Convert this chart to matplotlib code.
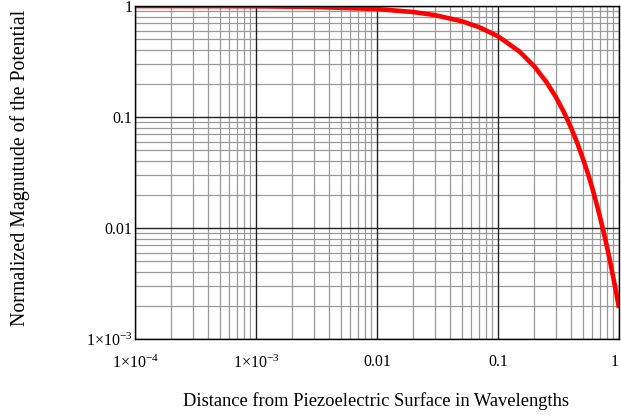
import matplotlib
matplotlib.use("Agg")
import matplotlib.pyplot as plt
import numpy as np
from matplotlib.ticker import FixedLocator, NullFormatter

# Data
distance = [1e-4, 3e-4, 1e-3, 3e-3, 0.01, 0.02, 0.03, 0.05, 0.07, 0.1,
            0.15, 0.2, 0.25, 0.3, 0.35, 0.4, 0.45, 0.5, 0.55, 0.6,
            0.65, 0.7, 0.75, 0.8, 0.85, 0.9, 0.95, 1.0]
potential = [0.9994, 0.998, 0.994, 0.981, 0.939, 0.882, 0.828, 0.730, 0.644, 0.534,
             0.390, 0.285, 0.208, 0.152, 0.111, 0.081, 0.059, 0.043, 0.0316, 0.0231,
             0.0168, 0.0123, 0.0090, 0.0066, 0.0048, 0.0035, 0.0026, 0.0019]

x_ticks = [1e-4, 1e-3, 0.01, 0.1, 1]
x_labels = [r"$1{\times}10^{-4}$", r"$1{\times}10^{-3}$", "0.01", "0.1", "1"]
y_ticks = [1e-3, 0.01, 0.1, 1]
y_labels = [r"$1{\times}10^{-3}$", "0.01", "0.1", "1"]

plt.rcParams["font.family"] = ["Liberation Serif", "DejaVu Serif"]
plt.rcParams["mathtext.fontset"] = "custom"
plt.rcParams["mathtext.rm"] = "Liberation Serif"
plt.rcParams["mathtext.it"] = "Liberation Serif:italic"

fig = plt.figure(figsize=(6.21, 4.18), dpi=100)
ax = fig.add_axes([135/621, 79/418, 484/621, 333/418])

ax.set_xscale("log")
ax.set_yscale("log")
ax.set_xlim(1e-4, 1)
ax.set_ylim(1e-3, 1)

# grid lines
xminor = [m * 10.0**e for e in range(-4, 0) for m in range(2, 10)]
yminor = [m * 10.0**e for e in range(-3, 0) for m in range(2, 10)]
for v in xminor:
    ax.axvline(v, color="#9a9a9a", lw=0.9, zorder=1)
for v in yminor:
    ax.axhline(v, color="#9a9a9a", lw=0.9, zorder=1)
for v in x_ticks:
    ax.axvline(v, color="#222222", lw=1.0, zorder=1.5)
for v in y_ticks:
    ax.axhline(v, color="#222222", lw=1.0, zorder=1.5)

ax.plot(distance, potential, color="#ff0000", lw=3.3, zorder=3, solid_capstyle="butt")

ax.xaxis.set_major_locator(FixedLocator(x_ticks))
ax.set_xticklabels(x_labels)
ax.yaxis.set_major_locator(FixedLocator(y_ticks))
ax.set_yticklabels(y_labels)
ax.xaxis.set_minor_formatter(NullFormatter())
ax.yaxis.set_minor_formatter(NullFormatter())
ax.tick_params(axis="both", which="both", length=0, labelsize=11.5)
ax.tick_params(axis="x", pad=11)
ax.tick_params(axis="y", pad=2)
ax.get_xticklabels()[-1].set_horizontalalignment("right")

for s in ax.spines.values():
    s.set_color("black")
    s.set_linewidth(1.0)
    s.set_zorder(4)

fig.text(376/621, 1 - 401/418, "Distance from Piezoelectric Surface in Wavelengths",
         ha="center", va="center", fontsize=13.3)
fig.text(20/621, 1 - 168/418, "Normalized Magnutude of the Potential",
         ha="center", va="center", rotation=90, fontsize=14.3)

fig.savefig("out.png", dpi=100)
